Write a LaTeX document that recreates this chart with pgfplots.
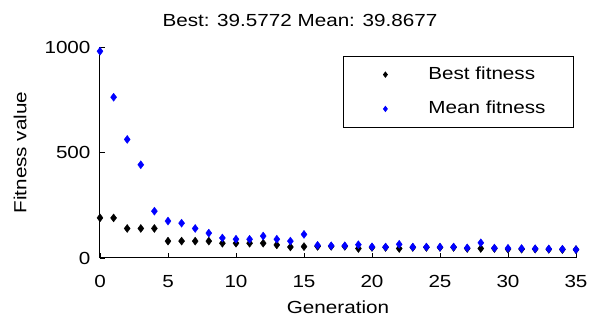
\documentclass[border=0pt]{standalone}
\usepackage{fontspec}
\setmainfont{Liberation Sans}[FakeStretch=1.18]
\usepackage{pgfplots}
\pgfplotsset{compat=1.18}
\definecolor{mblue}{rgb}{0,0,1}
\newcommand{\ff}{\fontsize{17.5}{21}\selectfont}
\begin{document}
\ff
\begin{tikzpicture}
\useasboundingbox (-100pt,-62pt) rectangle (491pt,258pt);
\begin{axis}[
  scale only axis,
  width=476pt, height=211pt,
  xmin=0, xmax=35, ymin=0, ymax=1000,
  axis x line=bottom, axis y line=left,
  axis line style={-, line width=1pt},
  tick align=inside,
  major tick length=5pt,
  tick style={line width=0.8pt, black},
  xtick={0,5,...,35}, ytick={0,500,1000},
  /pgf/number format/assume math mode=true,
  /pgf/number format/1000 sep={},
  ticklabel style={font=\ff},
  label style={font=\ff},
  xlabel={Generation},
  ylabel={Fitness value},
  xlabel style={at={(axis description cs:0.5,0)}, anchor=north, yshift=-37pt},
  ylabel style={at={(axis description cs:0,0.5)}, anchor=center, yshift=80pt},
  yticklabel style={anchor=east, xshift=-3.5pt},
  xticklabel style={anchor=north, yshift=-11pt},
  clip=false,
  legend image code/.code={\path[draw=none,fill=none] (0pt,-4pt) rectangle (73pt,4pt); \draw[#1, mark size=2.6pt] plot coordinates {(32pt,0pt)};},
  legend style={at={(rel axis cs:0.5105,0.957)}, anchor=north west, draw=black, line width=0.8pt,
    inner xsep=10pt, inner ysep=8.5pt, row sep=15pt, nodes={inner sep=2pt, font=\ff}},
  legend cell align=left,
]
\addplot[only marks, mark=diamond*, mark size=4pt, color=black] coordinates {
(0,190)(1,190)(2,140)(3,140)(4,140)(5,80)(6,80)(7,80)(8,80)(9,70)(10,70)(11,70)(12,70)
(13,62)(14,52)(15,54)(16,55)(17,55)(18,55)(19,45)(20,50)(21,50)(22,45)(23,50)(24,50)
(25,50)(26,50)(27,45)(28,45)(29,45)(30,42)(31,42)(32,42)(33,41)(34,40)(35,39.5772)};
\addlegendentry{Best fitness}
\addplot[only marks, mark=diamond*, mark size=4pt, color=mblue] coordinates {
(0,980)(1,762)(2,562)(3,442)(4,222)(5,175)(6,165)(7,140)(8,118)(9,95)(10,89)(11,89)
(12,104)(13,89)(14,80)(15,112)(16,60)(17,58)(18,58)(19,63)(20,53)(21,52)(22,65)(23,52)
(24,52)(25,52)(26,52)(27,48)(28,72)(29,47)(30,46)(31,45)(32,44)(33,43)(34,42)(35,39.8677)};
\addlegendentry{Mean fitness\rule{16pt}{0pt}}
\node[anchor=base, font=\ff] at (rel axis cs:0.42,1.095) {Best: 39.5772 Mean: 39.8677};
\end{axis}
\end{tikzpicture}
\end{document}
